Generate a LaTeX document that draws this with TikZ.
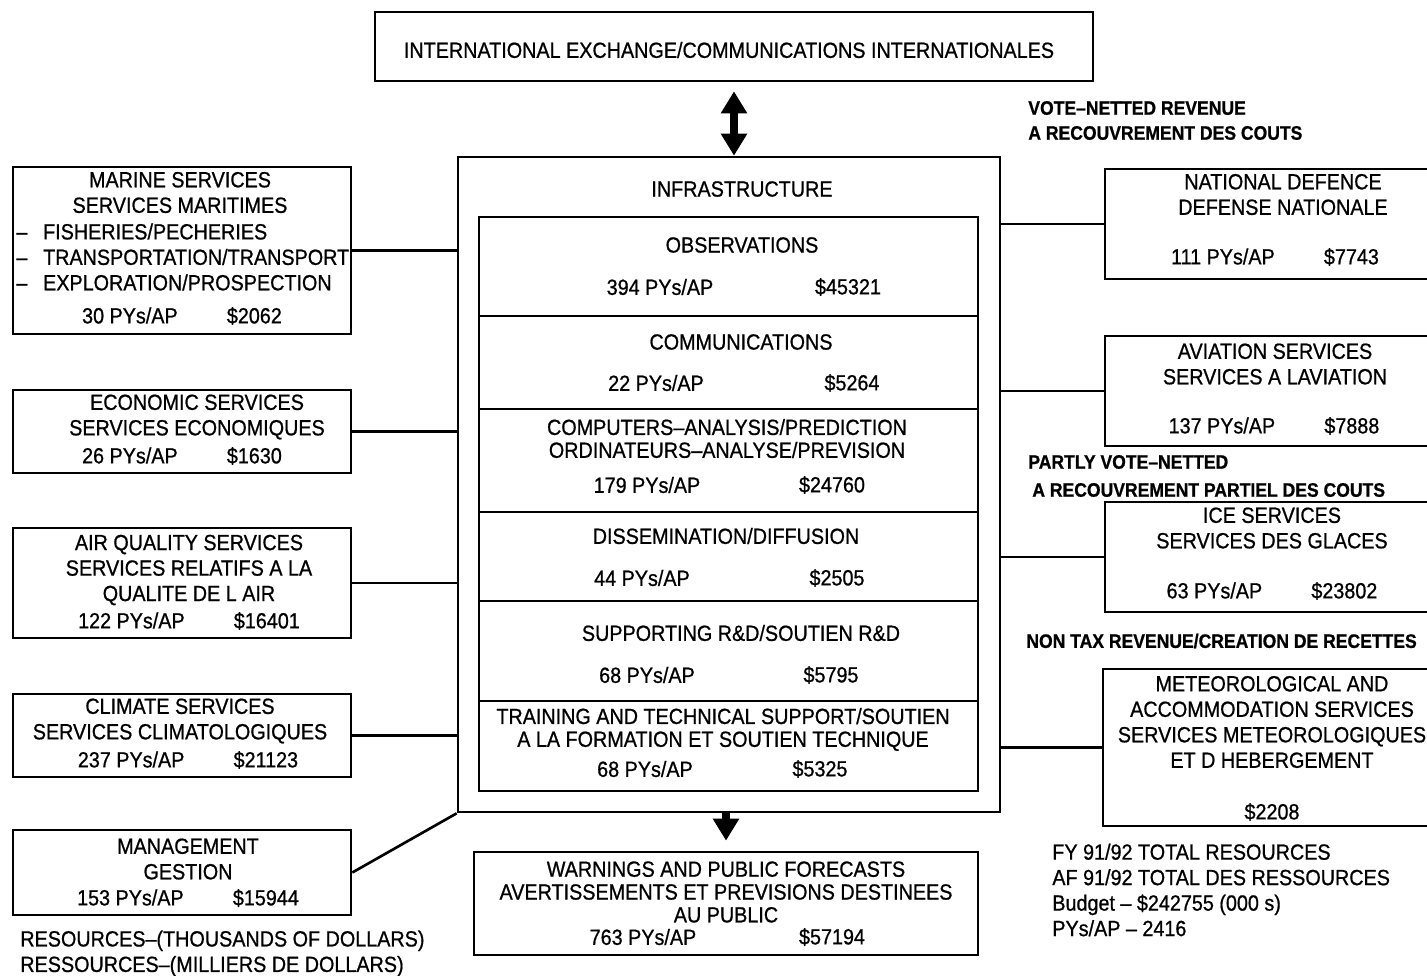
\documentclass[tikz,border=0pt]{standalone}
\usepackage{fontspec}
\setmainfont{Liberation Sans}[FakeStretch=0.9,FakeBold=0.8]
\usetikzlibrary{arrows.meta,fit}

\newcommand{\boxfont}{\fontsize{12.5}{14.5}\selectfont}
\newcommand{\tightfont}{\fontsize{12.5}{13}\selectfont}
\newcommand{\notefont}{\fontsize{11.1}{14.2}\selectfont\bfseries}
\newcommand{\gapp}{\hspace{28pt}}
\newcommand{\dashitem}{--\hspace{9pt}}

\tikzset{
  box/.style={draw, line width=1.5pt, inner sep=0pt},
  txt/.style={align=center, font=\boxfont, inner sep=0pt},
  tight/.style={align=center, font=\tightfont, inner sep=0pt},
  lefttxt/.style={align=left, anchor=west, font=\boxfont, inner sep=0pt},
  note/.style={align=left, anchor=west, font=\notefont, inner sep=0pt},
  link/.style={line width=1.5pt},
  fat/.style={line width=5pt, -{Triangle[width=0.5cm,length=0.44cm]}},
  fatboth/.style={line width=5pt, {Triangle[width=0.5cm,length=0.44cm]}-{Triangle[width=0.5cm,length=0.44cm]}},
}

\begin{document}
\begin{tikzpicture}[x=0.02cm,y=-0.02cm]
\clip (0,0) rectangle (1427,975);

% top box
\node[box, fit={(375,12) (1093,81)}] (intl) {};
\node[txt] (intl-t) at (729,50) {INTERNATIONAL EXCHANGE/COMMUNICATIONS INTERNATIONALES};

% infrastructure and its parts
\node[box, fit={(458,157) (1000,812)}] (infra) {};
\node[txt] (infra-t) at (742,189) {INFRASTRUCTURE};

\node[box, fit={(479,217) (978,316)}] (obs) {};
\node[txt] (obs-t) at (742,245) {OBSERVATIONS};
\node[txt] (obs-p) at (660,287) {394 PYs/AP};
\node[txt] (obs-d) at (848,287) {\$45321};

\node[box, fit={(479,316) (978,409)}] (com) {};
\node[txt] (com-t) at (741,342) {COMMUNICATIONS};
\node[txt] (com-p) at (656,383) {22 PYs/AP};
\node[txt] (com-d) at (852,383) {\$5264};

\node[box, fit={(479,409) (978,512)}] (cmp) {};
\node[tight] (cmp-t) at (727,438.5) {COMPUTERS--ANALYSIS/PREDICTION\\ORDINATEURS--ANALYSE/PREVISION};
\node[txt] (cmp-p) at (647,485) {179 PYs/AP};
\node[txt] (cmp-d) at (832,485) {\$24760};

\node[box, fit={(479,512) (978,601)}] (dis) {};
\node[txt] (dis-t) at (726,536) {DISSEMINATION/DIFFUSION};
\node[txt] (dis-p) at (642,578) {44 PYs/AP};
\node[txt] (dis-d) at (837,578) {\$2505};

\node[box, fit={(479,601) (978,701)}] (sup) {};
\node[txt] (sup-t) at (741,633) {SUPPORTING R\&D/SOUTIEN R\&D};
\node[txt] (sup-p) at (647,675) {68 PYs/AP};
\node[txt] (sup-d) at (831,675) {\$5795};

\node[box, fit={(479,701) (978,791)}] (trn) {};
\node[tight] (trn-t) at (723,729.5) {TRAINING AND TECHNICAL SUPPORT/SOUTIEN\\A LA FORMATION ET SOUTIEN TECHNIQUE};
\node[txt] (trn-p) at (645,769) {68 PYs/AP};
\node[txt] (trn-d) at (820,769) {\$5325};

% output
\node[box, fit={(474,852) (978,955)}] (warn) {};
\node[tight] (warn-t) at (726,892) {WARNINGS AND PUBLIC FORECASTS\\AVERTISSEMENTS ET PREVISIONS DESTINEES\\AU PUBLIC};
\node[txt] (warn-p) at (643,937) {763 PYs/AP};
\node[txt] (warn-d) at (832,937) {\$57194};

\draw[fatboth, shorten <=0.18cm] (intl.south) -- (intl.south |- infra.north);
\draw[fat, shorten >=0.2cm] (warn.north |- infra.south) -- (warn.north);

% left column
\node[box, fit={(13,167) (351,334)}] (marine) {};
\node[txt] (marine-t) at (180,192.5) {MARINE SERVICES\\SERVICES MARITIMES};
\node[lefttxt] (marine-l) at (16,257) {\dashitem FISHERIES/PECHERIES\\\dashitem TRANSPORTATION/TRANSPORT\\\dashitem EXPLORATION/PROSPECTION};
\node[txt] (marine-n) at (182,316) {30 PYs/AP\gapp\$2062};

\node[box, fit={(13,390) (351,473)}] (econ) {};
\node[txt] (econ-t) at (197,417) {ECONOMIC SERVICES\\SERVICES ECONOMIQUES};
\node[txt] (econ-n) at (182,456) {26 PYs/AP\gapp\$1630};

\node[box, fit={(13,528) (351,638)}] (air) {};
\node[txt] (air-t) at (189,570) {AIR QUALITY SERVICES\\SERVICES RELATIFS A LA\\QUALITE DE L AIR};
\node[txt] (air-n) at (189,621) {122 PYs/AP\gapp\$16401};

\node[box, fit={(13,694) (351,777)}] (clim) {};
\node[txt] (clim-t) at (180,721) {CLIMATE SERVICES\\SERVICES CLIMATOLOGIQUES};
\node[txt] (clim-n) at (188,760) {237 PYs/AP\gapp\$21123};

\node[box, fit={(13,830) (351,915)}] (mgmt) {};
\node[txt] (mgmt-t) at (188,859) {MANAGEMENT\\GESTION};
\node[txt] (mgmt-n) at (188,898) {153 PYs/AP\gapp\$15944};

\node[lefttxt] (units) at (20,953.5) {RESOURCES--(THOUSANDS OF DOLLARS)\\RESSOURCES--(MILLIERS DE DOLLARS)};

\foreach \b in {marine,econ,air,clim}
  \draw[link] (\b.east) -- (\b.east -| infra.west);
\draw[link] (mgmt.east) -- (infra.south west);

% right column
\node[note] (vote) at (1028,120.5) {VOTE--NETTED REVENUE\\A RECOUVREMENT DES COUTS};

\node[box, fit={(1105,169) (1440,279)}] (def) {};
\node[txt] (def-t) at (1283,194.5) {NATIONAL DEFENCE\\DEFENSE NATIONALE};
\node[txt] (def-n) at (1275,257) {111 PYs/AP\gapp\$7743};

\node[box, fit={(1105,336) (1440,446)}] (avi) {};
\node[txt] (avi-t) at (1275,364) {AVIATION SERVICES\\SERVICES A LAVIATION};
\node[txt] (avi-n) at (1274,426) {137 PYs/AP\gapp\$7888};

\node[note] (partly) at (1028,462) {PARTLY VOTE--NETTED};
\node[note] (partly-f) at (1032,490) {A RECOUVREMENT PARTIEL DES COUTS};

\node[box, fit={(1105,502) (1440,612)}] (ice) {};
\node[txt] (ice-t) at (1272,528) {ICE SERVICES\\SERVICES DES GLACES};
\node[txt] (ice-n) at (1272,591) {63 PYs/AP\gapp\$23802};

\node[note] (nontax) at (1026,641) {NON TAX REVENUE/CREATION DE RECETTES};

\node[box, fit={(1103,669) (1440,826)}] (met) {};
\node[txt] (met-t) at (1272,722) {METEOROLOGICAL AND\\ACCOMMODATION SERVICES\\SERVICES METEOROLOGIQUES\\ET D HEBERGEMENT};
\node[txt] (met-n) at (1272,812) {\$2208};

\node[lefttxt] (total) at (1052,890) {FY 91/92 TOTAL RESOURCES\\AF 91/92 TOTAL DES RESSOURCES\\Budget -- \$242755 (000 s)\\PYs/AP -- 2416};

\foreach \b in {def,avi,ice,met}
  \draw[link] (\b.west) -- (\b.west -| infra.east);
\end{tikzpicture}
\end{document}
